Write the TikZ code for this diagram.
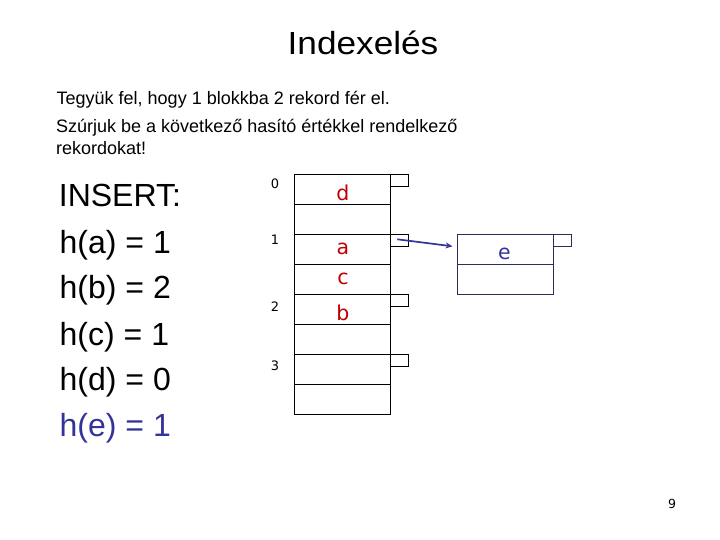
\documentclass[tikz,border=0pt]{standalone}
\usepackage{fontspec}
\setmainfont{Liberation Sans}
\newfontfamily\vfont{DejaVu Sans}
\usetikzlibrary{arrows.meta}
\definecolor{recred}{RGB}{192,0,0}
\definecolor{recblue}{RGB}{51,51,153}
\definecolor{ovline}{RGB}{45,45,90}
\tikzset{
  slot/.style={draw=black, line width=0.9pt, minimum width=95.7pt, minimum height=30pt, inner sep=0pt, outer sep=0pt},
  ptr/.style={draw=black, line width=0.9pt, minimum width=18pt, minimum height=12pt, inner sep=0pt, outer sep=0pt, anchor=north west},
  ovslot/.style={slot, draw=ovline, minimum width=96pt},
  ovptr/.style={ptr, draw=ovline},
  rec/.style={font=\vfont\fontsize{20.5}{24}\selectfont, text=recred, anchor=base, inner sep=0pt},
  idx/.style={font=\vfont\fontsize{13}{15}\selectfont, anchor=base, inner sep=0pt},
  big/.style={font=\fontsize{32}{38}\selectfont, anchor=base west, inner sep=0pt},
  body/.style={font=\fontsize{18}{21}\selectfont, anchor=base west, inner sep=0pt},
}
\begin{document}
\begin{tikzpicture}[x=1pt,y={(0pt,-1pt)}]
\useasboundingbox (0,0) rectangle (720,540);
% title
\node[anchor=base, inner sep=0pt, font=\fontsize{32}{38}\selectfont] (title) at (363,54.5) {\scalebox{1.1}[1]{Indexelés}};
% body text
\node[body] (t1) at (56.5,104.3) {Tegyük fel, hogy 1 blokkba 2 rekord fér el.};
\node[body] (t2) at (56,132.7) {Szúrjuk be a következő hasító értékkel rendelkező};
\node[body] (t3) at (56,155) {rekordokat!};
% left list
\node[big] (ins) at (58.7,206.7) {INSERT:};
\node[big] (ha) at (59.5,253.3) {h(a) = 1};
\node[big] (hb) at (59.5,298.3) {h(b) = 2};
\node[big] (hc) at (59.5,345) {h(c) = 1};
\node[big] (hd) at (59.5,390) {h(d) = 0};
\node[big, text=recblue] (he) at (59.5,436.7) {h(e) = 1};
% bucket slots
\foreach \i in {0,...,7} {
  \node[slot] (s\i) at (342.2,{189.3+30*\i}) {};
}
% pointer boxes
\node[ptr] (p0) at (s0.north east) {};
\node[ptr] (p1) at (s2.north east) {};
\node[ptr] (p2) at (s4.north east) {};
\node[ptr] (p3) at (s6.north east) {};
% bucket indices
\node[idx] (i0) at (275,188.7) {0};
\node[idx] (i1) at (275,244.3) {1};
\node[idx] (i2) at (275,311) {2};
\node[idx] (i3) at (275,370) {3};
% records
\node[rec] (rd) at (343,200.7) {d};
\node[rec] (ra) at (343,254.3) {a};
\node[rec] (rc) at (343,284.3) {c};
\node[rec] (rb) at (343,320) {b};
% overflow block
\node[ovslot] (o0) at (505.3,249) {};
\node[ovslot] (o1) at (505.3,279) {};
\node[ovptr] (op) at (o0.north east) {};
\node[rec, text=recblue] (re) at (504.3,259) {e};
% overflow pointer
\coordinate (pstart) at (397.3,239.3);
\coordinate (pend) at (452.5,246.3);
\draw[recblue, line width=1.7pt, -{Stealth[length=7pt,width=6pt]}] (pstart) -- (pend);
% page number
\node[idx, font=\vfont\fontsize{12.5}{15}\selectfont] (pg) at (672,508) {9};
\end{tikzpicture}
\end{document}
